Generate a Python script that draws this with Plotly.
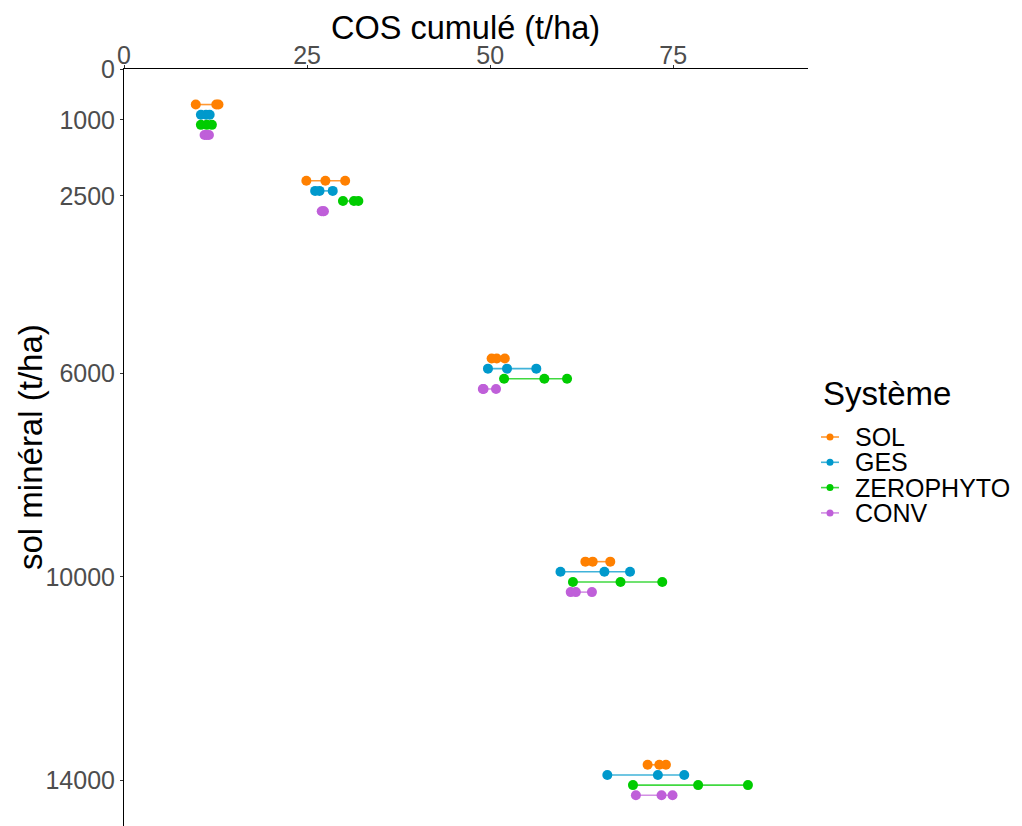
import plotly.graph_objects as go

# Soil depth groups (cumulated mineral soil mass, t/ha)
depths = [1000, 2500, 6000, 10000, 14000]
systems = ["SOL", "GES", "ZEROPHYTO", "CONV"]
colors = {"SOL": "#FF8000", "GES": "#0099CC", "ZEROPHYTO": "#00CC00", "CONV": "#BF5FD9"}
line_colors = {"SOL": "rgba(255,128,0,0.8)", "GES": "rgba(0,153,204,0.75)",
               "ZEROPHYTO": "rgba(0,204,0,0.75)", "CONV": "rgba(191,95,217,0.7)"}

# Cumulated SOC stocks (t/ha), three values per depth for each system
sol = [[9.8, 12.6, 12.9], [24.9, 27.5, 30.2], [50.2, 50.9, 52.0], [63.0, 64.0, 66.4], [71.5, 73.1, 74.0]]
ges = [[10.5, 11.2, 11.7], [26.1, 26.7, 28.5], [49.7, 52.3, 56.3], [59.6, 65.6, 69.1], [66.0, 72.9, 76.5]]
zerophyto = [[10.5, 11.3, 12.0], [29.9, 31.4, 32.0], [51.9, 57.4, 60.5], [61.3, 67.8, 73.5], [69.5, 78.4, 85.2]]
conv = [[11.0, 11.3, 11.6], [27.0, 27.2, 27.3], [49.0, 49.1, 50.8], [61.0, 61.7, 63.9], [69.9, 73.4, 74.9]]

values = {"SOL": sol, "GES": ges, "ZEROPHYTO": zerophyto, "CONV": conv}

y_ticks = [0, 1000, 2500, 6000, 10000, 14000]
y_ticklabels = ["0", "1000", "2500", "6000", "10000", "14000"]
x_ticks = [0, 25, 50, 75]

# vertical dodge between systems (data units)
dodge = 200
n = len(systems)

fig = go.Figure()
for i, s in enumerate(systems):
    off = (i - (n - 1) / 2) * dodge
    xs, ys = [], []
    for d, grp in zip(depths, values[s]):
        for v in sorted(grp):
            xs.append(v)
            ys.append(d + off)
        xs.append(None)
        ys.append(None)
    fig.add_trace(go.Scatter(
        x=xs, y=ys, mode="lines+markers", name=s, showlegend=False,
        line=dict(color=line_colors[s], width=1.6),
        marker=dict(color=colors[s], size=10),
        connectgaps=False,
    ))

font_family = "Liberation Sans, Arial, sans-serif"

W, H = 1022, 826
l, r, t, b = 124, 214, 69, 0
pw, ph = W - l - r, H - t - b


def px(xp):
    return (xp - l) / pw


def py(yp):
    return 1 - (yp - t) / ph


annotations = [
    dict(text="COS cumulé (t/ha)", x=px(465), y=py(28), xref="paper", yref="paper",
         xanchor="center", yanchor="middle", showarrow=False,
         font=dict(size=32.5, color="black")),
    dict(text="sol minéral (t/ha)", x=px(31), y=py(447), xref="paper", yref="paper",
         xanchor="center", yanchor="middle", showarrow=False, textangle=-90,
         font=dict(size=33, color="black")),
    dict(text="Système", x=px(821), y=py(393), xref="paper", yref="paper",
         xanchor="left", yanchor="middle", showarrow=False,
         font=dict(size=33, color="black")),
]

# legend keys: short line with a dot, followed by the system name
shapes = []
key_y0, key_step = 437, 25.3
for i, s in enumerate(systems):
    yk = key_y0 + i * key_step
    shapes.append(dict(type="line", xref="paper", yref="paper",
                       x0=px(821), x1=px(839), y0=py(yk), y1=py(yk),
                       line=dict(color=line_colors[s], width=1.6)))
    shapes.append(dict(type="circle", xref="paper", yref="paper",
                       x0=px(826.5), x1=px(833.5), y0=py(yk + 3.5), y1=py(yk - 3.5),
                       fillcolor=colors[s], line=dict(width=0)))
    annotations.append(dict(text=s, x=px(853), y=py(yk), xref="paper", yref="paper",
                            xanchor="left", yanchor="middle", showarrow=False,
                            font=dict(size=25, color="black")))

fig.update_layout(
    width=W, height=H,
    margin=dict(l=l, r=r, t=t, b=b),
    plot_bgcolor="white", paper_bgcolor="white",
    font=dict(family=font_family, color="#4D4D4D"),
    showlegend=False,
    xaxis=dict(
        side="top", range=[0, 93.4], tickvals=x_ticks,
        showline=True, linecolor="black", linewidth=1,
        ticks="outside", ticklen=3, tickcolor="#333333",
        tickfont=dict(size=25, color="#4D4D4D"),
        ticklabelstandoff=-9,
        showgrid=False, zeroline=False,
    ),
    yaxis=dict(
        range=[14905, 0], tickvals=y_ticks, ticktext=y_ticklabels,
        showline=True, linecolor="black", linewidth=1,
        ticks="outside", ticklen=3, tickcolor="#333333",
        tickfont=dict(size=25, color="#4D4D4D"),
        showgrid=False, zeroline=False,
    ),
    annotations=annotations,
    shapes=shapes,
)

fig.write_html("out.html")
